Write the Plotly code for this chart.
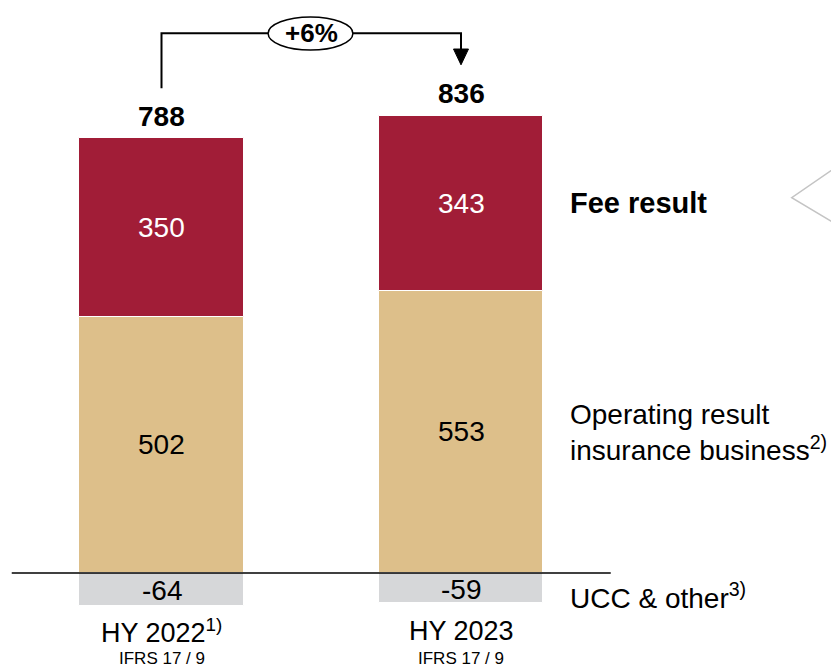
import plotly.graph_objects as go

categories = ["HY 2022", "HY 2023"]
cat_sup = ["1)", ""]
cat_sub = ["IFRS 17 / 9", "IFRS 17 / 9"]
op_result = [502, 553]
fee_result = [350, 343]
ucc_other = [-64, -59]
totals = [788, 836]
growth_label = "+6%"

RED = "#A11D37"
BEIGE = "#DDBF8A"
GRAY = "#D6D7D9"
FONT = "Liberation Sans, Arial, sans-serif"

# page body has an 8px margin; figure is sized to fill the rest of the window
W, H = 831, 662

xs = list(range(len(categories)))
pos_tops = [a + b for a, b in zip(op_result, fee_result)]

fig = go.Figure()
bw = 0.548
for vals, col in [(op_result, BEIGE), (fee_result, RED), (ucc_other, GRAY)]:
    fig.add_trace(go.Bar(x=xs, y=vals, width=bw, marker=dict(color=col, line=dict(color="white", width=1)),
                         hoverinfo="skip", showlegend=False))

ann = []
for i in xs:
    ann.append(dict(x=i, y=op_result[i] / 2, text=str(op_result[i]), font=dict(size=28, color="black")))
    ann.append(dict(x=i, y=op_result[i] + fee_result[i] / 2, text=str(fee_result[i]), font=dict(size=28, color="white")))
    ann.append(dict(x=i, y=ucc_other[i] / 2 - 3, text=str(ucc_other[i]), font=dict(size=28, color="black")))
    ann.append(dict(x=i, y=pos_tops[i] + 43, text="<b>%d</b>" % totals[i], font=dict(size=28, color="black")))
    lab = categories[i] + ("<sup>%s</sup>" % cat_sup[i] if cat_sup[i] else "")
    ann.append(dict(x=i, y=-113, text=lab, font=dict(size=27, color="black")))
    ann.append(dict(x=i, y=-167, text=cat_sub[i], font=dict(size=17, color="black")))

# right-hand series labels
lx = 1.358
ann.append(dict(x=lx, y=op_result[1] + fee_result[1] / 2, text="<b>Fee result</b>", xanchor="left",
                font=dict(size=29, color="black")))
ann.append(dict(x=lx, y=275, text="Operating result<br>insurance business<sup>2)</sup>", xanchor="left", align="left",
                font=dict(size=28, color="black")))
ann.append(dict(x=lx, y=-46, text="UCC & other<sup>3)</sup>", xanchor="left", font=dict(size=28, color="black")))

# growth bubble
ann.append(dict(x=0.5, y=1058, text="<b>%s</b>" % growth_label, font=dict(size=26, color="black")))

for a in ann:
    a.setdefault("xref", "x")
    a.setdefault("yref", "y")
    a.setdefault("showarrow", False)
    a.setdefault("yanchor", "middle")
    a["font"]["family"] = FONT
fig.update_layout(annotations=ann)

shapes = []
# zero line
shapes.append(dict(type="line", xref="x", yref="y", x0=-0.5, x1=1.5, y0=0, y1=0, line=dict(color="black", width=1.5)))
# bracket
shapes.append(dict(type="path", xref="x", yref="y",
                   path="M 0,950 L 0,1058 L 0.356,1058 M 0.639,1058 L 1,1058 L 1,1020",
                   line=dict(color="black", width=2)))
shapes.append(dict(type="path", xref="x", yref="y",
                   path="M 0.975,1027 L 1.025,1027 L 1,996 Z", fillcolor="black", line=dict(color="black", width=1)))
shapes.append(dict(type="circle", xref="x", yref="y", x0=0.356, x1=0.639, y0=1025, y1=1090,
                   line=dict(color="black", width=1.5), fillcolor="white"))
# callout triangle at right edge
shapes.append(dict(type="path", xref="paper", yref="paper",
                   path="M 1.0,%.4f L %.4f,%.4f L 1.0,%.4f" % (1 - 157 / H, 783.7 / W, 1 - 189.7 / H, 1 - 218 / H),
                   line=dict(color="#C4C4C4", width=1.5)))
fig.update_layout(shapes=shapes)

fig.update_layout(
    width=W, height=H,
    margin=dict(l=0, r=0, t=0, b=0),
    paper_bgcolor="white", plot_bgcolor="white",
    barmode="relative", bargap=0,
    xaxis=dict(range=[-0.5125, 2.2621], visible=False, fixedrange=True),
    yaxis=dict(range=[-190.1, 1107.4], visible=False, fixedrange=True),
    font=dict(family=FONT),
)

fig.write_html("out.html")
